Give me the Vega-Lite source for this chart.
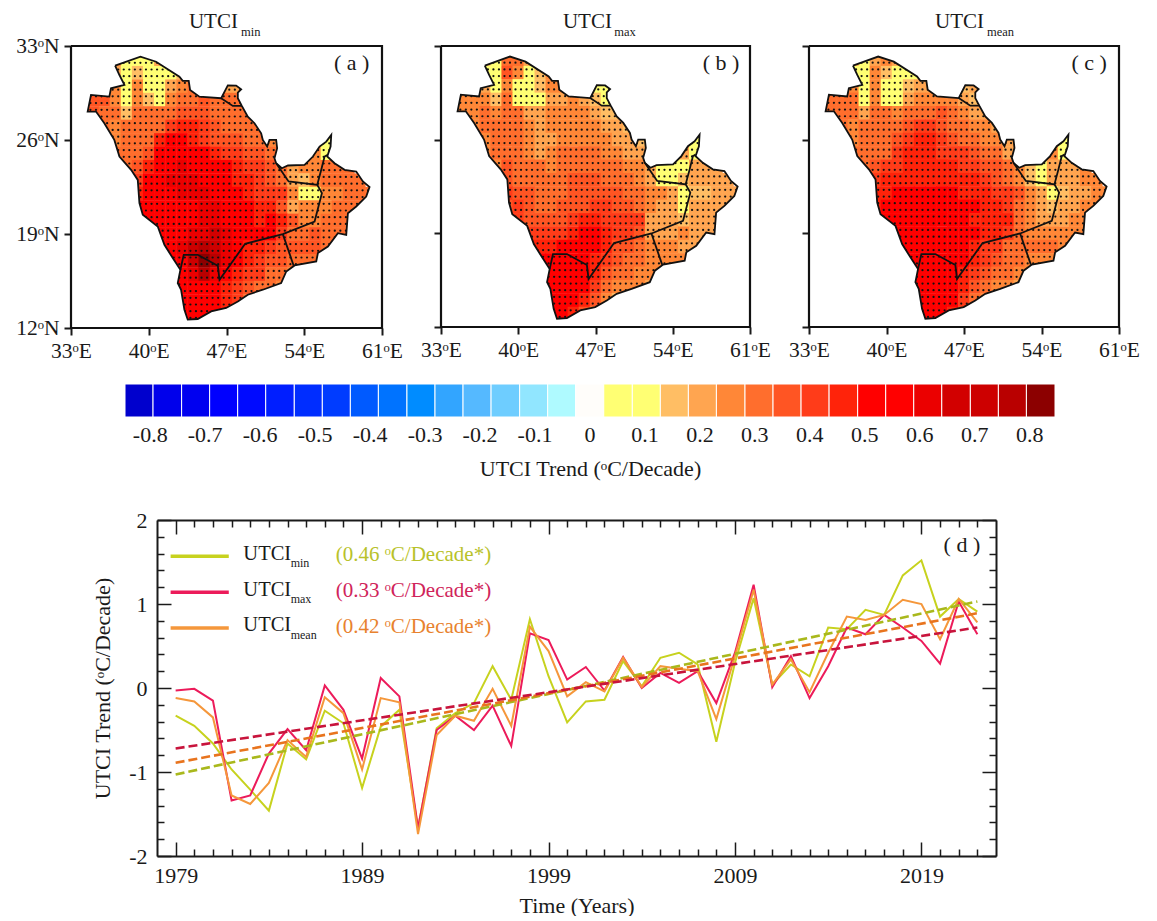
{"$schema":"https://vega.github.io/schema/vega-lite/v6.json","background":"white","padding":{"left":15,"top":10,"right":0,"bottom":0},"bounds":"flush","spacing":474,
"config":{"font":"Liberation Serif","view":{"stroke":null},"text":{"color":"#1a1a1a"},"axis":{"labelColor":"#1a1a1a","titleColor":"#1a1a1a","tickColor":"#1a1a1a","domainColor":"#1a1a1a","grid":false}},
"datasets":{
"geo":[
{"g":"rect","i":-4,"x":33,"y":33},{"g":"rect","i":-3,"x":33,"y":12},{"g":"rect","i":-2,"x":61,"y":12},{"g":"rect","i":-1,"x":61,"y":33},{"g":"rect","i":0,"x":33,"y":33},
{"g":"coast","i":1,"x":36.97,"y":31.54},{"g":"coast","i":2,"x":39.25,"y":32.21},{"g":"coast","i":3,"x":40.66,"y":31.83},{"g":"coast","i":4,"x":42.76,"y":30.72},{"g":"coast","i":5,"x":43.06,"y":30.4},{"g":"coast","i":6,"x":43.6,"y":30.4},{"g":"coast","i":7,"x":43.72,"y":29.73},{"g":"coast","i":8,"x":44.56,"y":29.23},{"g":"coast","i":9,"x":46.52,"y":29.11},{"g":"coast","i":10,"x":46.91,"y":29.73},{"g":"coast","i":11,"x":47.12,"y":30.07},{"g":"coast","i":12,"x":47.87,"y":30.05},{"g":"coast","i":13,"x":48.32,"y":29.78},{"g":"coast","i":14,"x":48.02,"y":29.53},{"g":"coast","i":15,"x":48.02,"y":29.11},{"g":"coast","i":16,"x":48.38,"y":28.54},{"g":"coast","i":17,"x":48.92,"y":27.74},{"g":"coast","i":18,"x":49.52,"y":27.25},{"g":"coast","i":19,"x":50.12,"y":26.5},{"g":"coast","i":20,"x":50.27,"y":26.01},{"g":"coast","i":21,"x":50.66,"y":25.51},{"g":"coast","i":22,"x":50.87,"y":26.01},{"g":"coast","i":23,"x":51.47,"y":26.01},{"g":"coast","i":24,"x":51.56,"y":25.39},{"g":"coast","i":25,"x":51.32,"y":24.64},{"g":"coast","i":26,"x":51.47,"y":24.27},{"g":"coast","i":27,"x":51.98,"y":23.9},{"g":"coast","i":28,"x":52.53,"y":24.1},{"g":"coast","i":29,"x":54.03,"y":24.15},{"g":"coast","i":30,"x":54.78,"y":24.77},{"g":"coast","i":31,"x":55.38,"y":25.51},{"g":"coast","i":32,"x":55.98,"y":25.88},{"g":"coast","i":33,"x":56.43,"y":26.38},{"g":"coast","i":34,"x":56.37,"y":25.51},{"g":"coast","i":35,"x":56.07,"y":24.77},{"g":"coast","i":36,"x":56.73,"y":24.27},{"g":"coast","i":37,"x":57.63,"y":23.78},{"g":"coast","i":38,"x":58.68,"y":23.65},{"g":"coast","i":39,"x":59.28,"y":22.91},{"g":"coast","i":40,"x":59.88,"y":22.49},{"g":"coast","i":41,"x":59.58,"y":21.79},{"g":"coast","i":42,"x":58.68,"y":21.05},{"g":"coast","i":43,"x":57.93,"y":20.55},{"g":"coast","i":44,"x":57.78,"y":18.94},{"g":"coast","i":45,"x":57.03,"y":19.06},{"g":"coast","i":46,"x":56.13,"y":18.07},{"g":"coast","i":47,"x":55.23,"y":17.58},{"g":"coast","i":48,"x":55.08,"y":16.96},{"g":"coast","i":49,"x":53.13,"y":16.66},{"g":"coast","i":50,"x":52.38,"y":16.21},{"g":"coast","i":51,"x":51.92,"y":15.35},{"g":"coast","i":52,"x":50.27,"y":14.85},{"g":"coast","i":53,"x":48.92,"y":14.48},{"g":"coast","i":54,"x":48.02,"y":13.98},{"g":"coast","i":55,"x":46.97,"y":13.49},{"g":"coast","i":56,"x":45.62,"y":13.24},{"g":"coast","i":57,"x":44.41,"y":12.67},{"g":"coast","i":58,"x":43.51,"y":12.62},{"g":"coast","i":59,"x":43.21,"y":13.36},{"g":"coast","i":60,"x":42.91,"y":14.85},{"g":"coast","i":61,"x":42.61,"y":15.35},{"g":"coast","i":62,"x":42.85,"y":16.34},{"g":"coast","i":63,"x":42.16,"y":17.21},{"g":"coast","i":64,"x":41.41,"y":18.2},{"g":"coast","i":65,"x":40.81,"y":19.56},{"g":"coast","i":66,"x":39.46,"y":20.43},{"g":"coast","i":67,"x":39.16,"y":21.3},{"g":"coast","i":68,"x":39.01,"y":23.03},{"g":"coast","i":69,"x":38.41,"y":23.78},{"g":"coast","i":70,"x":37.36,"y":24.77},{"g":"coast","i":71,"x":36.9,"y":26.01},{"g":"coast","i":72,"x":36,"y":27.25},{"g":"coast","i":73,"x":35.25,"y":28.12},{"g":"coast","i":74,"x":34.5,"y":28.12},{"g":"coast","i":75,"x":34.8,"y":29.36},{"g":"coast","i":76,"x":36.45,"y":29.23},{"g":"coast","i":77,"x":36.6,"y":29.85},{"g":"coast","i":78,"x":37.81,"y":30.1},{"g":"coast","i":79,"x":37.36,"y":30.84},{"g":"coast","i":80,"x":36.97,"y":31.54},
{"g":"close","i":81,"x":33,"y":33},
{"g":"b1","i":1,"x":42.85,"y":16.34},{"g":"b1","i":2,"x":43.15,"y":17.45},{"g":"b1","i":3,"x":44.41,"y":17.45},{"g":"b1","i":4,"x":46.22,"y":16.63},{"g":"b1","i":5,"x":46.37,"y":15.59},{"g":"b1","i":6,"x":48.68,"y":18.27},{"g":"b1","i":7,"x":52.07,"y":18.99},{"g":"b1","i":8,"x":54.93,"y":19.93},{"g":"b1","i":9,"x":55.59,"y":22.04},{"g":"b1","i":10,"x":55.17,"y":22.66},{"g":"b1","i":11,"x":52.59,"y":22.91},{"g":"b1","i":12,"x":51.47,"y":24.27},
{"g":"b2","i":1,"x":55.17,"y":22.66},{"g":"b2","i":2,"x":55.53,"y":23.78},{"g":"b2","i":3,"x":55.83,"y":24.77},{"g":"b2","i":4,"x":56.07,"y":24.89},
{"g":"b3","i":1,"x":52.07,"y":18.99},{"g":"b3","i":2,"x":53.04,"y":16.66},
{"g":"b4","i":1,"x":46.52,"y":29.11},{"g":"b4","i":2,"x":47.57,"y":28.54},{"g":"b4","i":3,"x":48.38,"y":28.54}
],
"cells":[
{"x":37,"y":32,"a":0.25,"b":0.15,"c":0.2},{"x":38,"y":32,"a":0.08,"b":0.08,"c":0.08},{"x":39,"y":32,"a":0.08,"b":0.3,"c":0.2},{"x":40,"y":32,"a":0.08,"b":0.3,"c":0.25},{"x":41,"y":32,"a":0.2,"b":0.2,"c":0.2},
{"x":37,"y":31,"a":0.2,"b":0.1,"c":0.1},{"x":38,"y":31,"a":0.08,"b":0.08,"c":0.08},{"x":39,"y":31,"a":0.15,"b":0.35,"c":0.25},{"x":40,"y":31,"a":0.1,"b":0.25,"c":0.15},{"x":41,"y":31,"a":0.08,"b":0.1,"c":0.08},{"x":42,"y":31,"a":0.08,"b":0.15,"c":0.08},{"x":43,"y":31,"a":0.15,"b":0.25,"c":0.1},
{"x":36,"y":30,"a":0.3,"b":0.25,"c":0.3},{"x":37,"y":30,"a":0.25,"b":0.2,"c":0.25},{"x":38,"y":30,"a":0.08,"b":0.1,"c":0.1},{"x":39,"y":30,"a":0.25,"b":0.25,"c":0.25},{"x":40,"y":30,"a":0.08,"b":0.08,"c":0.08},{"x":41,"y":30,"a":0.08,"b":0.08,"c":0.08},{"x":42,"y":30,"a":0.2,"b":0.15,"c":0.15},{"x":43,"y":30,"a":0.25,"b":0.25,"c":0.2},{"x":44,"y":30,"a":0.3,"b":0.25,"c":0.2},{"x":46,"y":30,"a":0.3,"b":0.1,"c":0.2},{"x":47,"y":30,"a":0.2,"b":0.08,"c":0.15},{"x":48,"y":30,"a":0.2,"b":0.1,"c":0.2},
{"x":34,"y":29,"a":0.4,"b":0.25,"c":0.35},{"x":35,"y":29,"a":0.35,"b":0.25,"c":0.3},{"x":36,"y":29,"a":0.35,"b":0.25,"c":0.3},{"x":37,"y":29,"a":0.25,"b":0.25,"c":0.3},{"x":38,"y":29,"a":0.1,"b":0.15,"c":0.1},{"x":39,"y":29,"a":0.25,"b":0.3,"c":0.25},{"x":40,"y":29,"a":0.15,"b":0.1,"c":0.1},{"x":41,"y":29,"a":0.1,"b":0.08,"c":0.08},{"x":42,"y":29,"a":0.25,"b":0.08,"c":0.2},{"x":43,"y":29,"a":0.3,"b":0.2,"c":0.25},{"x":44,"y":29,"a":0.3,"b":0.2,"c":0.25},{"x":45,"y":29,"a":0.35,"b":0.25,"c":0.25},{"x":46,"y":29,"a":0.3,"b":0.2,"c":0.25},{"x":47,"y":29,"a":0.3,"b":0.15,"c":0.2},{"x":48,"y":29,"a":0.3,"b":0.1,"c":0.15},
{"x":34,"y":28,"a":0.4,"b":0.25,"c":0.3},{"x":35,"y":28,"a":0.35,"b":0.25,"c":0.3},{"x":36,"y":28,"a":0.3,"b":0.25,"c":0.3},{"x":37,"y":28,"a":0.3,"b":0.3,"c":0.3},{"x":38,"y":28,"a":0.15,"b":0.25,"c":0.2},{"x":39,"y":28,"a":0.3,"b":0.3,"c":0.3},{"x":40,"y":28,"a":0.3,"b":0.3,"c":0.3},{"x":41,"y":28,"a":0.3,"b":0.2,"c":0.25},{"x":42,"y":28,"a":0.3,"b":0.2,"c":0.3},{"x":43,"y":28,"a":0.35,"b":0.25,"c":0.3},{"x":44,"y":28,"a":0.35,"b":0.25,"c":0.3},{"x":45,"y":28,"a":0.35,"b":0.25,"c":0.35},{"x":46,"y":28,"a":0.3,"b":0.25,"c":0.3},{"x":47,"y":28,"a":0.3,"b":0.2,"c":0.25},{"x":48,"y":28,"a":0.3,"b":0.15,"c":0.2},{"x":49,"y":28,"a":0.3,"b":0.15,"c":0.2},
{"x":35,"y":27,"a":0.35,"b":0.25,"c":0.3},{"x":36,"y":27,"a":0.3,"b":0.25,"c":0.3},{"x":37,"y":27,"a":0.25,"b":0.3,"c":0.25},{"x":38,"y":27,"a":0.3,"b":0.3,"c":0.3},{"x":39,"y":27,"a":0.3,"b":0.3,"c":0.3},{"x":40,"y":27,"a":0.3,"b":0.3,"c":0.3},{"x":41,"y":27,"a":0.3,"b":0.25,"c":0.3},{"x":42,"y":27,"a":0.4,"b":0.2,"c":0.35},{"x":43,"y":27,"a":0.45,"b":0.25,"c":0.4},{"x":44,"y":27,"a":0.45,"b":0.25,"c":0.4},{"x":45,"y":27,"a":0.4,"b":0.25,"c":0.35},{"x":46,"y":27,"a":0.35,"b":0.25,"c":0.3},{"x":47,"y":27,"a":0.3,"b":0.25,"c":0.3},{"x":48,"y":27,"a":0.3,"b":0.2,"c":0.25},{"x":49,"y":27,"a":0.3,"b":0.2,"c":0.25},{"x":50,"y":27,"a":0.3,"b":0.15,"c":0.2},
{"x":36,"y":26,"a":0.3,"b":0.25,"c":0.25},{"x":37,"y":26,"a":0.25,"b":0.25,"c":0.25},{"x":38,"y":26,"a":0.3,"b":0.3,"c":0.3},{"x":39,"y":26,"a":0.3,"b":0.3,"c":0.3},{"x":40,"y":26,"a":0.3,"b":0.3,"c":0.3},{"x":41,"y":26,"a":0.45,"b":0.25,"c":0.35},{"x":42,"y":26,"a":0.5,"b":0.2,"c":0.4},{"x":43,"y":26,"a":0.5,"b":0.2,"c":0.45},{"x":44,"y":26,"a":0.45,"b":0.25,"c":0.45},{"x":45,"y":26,"a":0.4,"b":0.25,"c":0.4},{"x":46,"y":26,"a":0.35,"b":0.25,"c":0.35},{"x":47,"y":26,"a":0.35,"b":0.25,"c":0.3},{"x":48,"y":26,"a":0.35,"b":0.25,"c":0.3},{"x":49,"y":26,"a":0.3,"b":0.2,"c":0.25},{"x":50,"y":26,"a":0.3,"b":0.2,"c":0.25},{"x":51,"y":26,"a":0.25,"b":0.15,"c":0.2},{"x":52,"y":26,"a":0.25,"b":0.15,"c":0.2},{"x":56,"y":26,"a":0.08,"b":0.08,"c":0.08},
{"x":37,"y":25,"a":0.3,"b":0.25,"c":0.3},{"x":38,"y":25,"a":0.3,"b":0.3,"c":0.3},{"x":39,"y":25,"a":0.3,"b":0.3,"c":0.3},{"x":40,"y":25,"a":0.35,"b":0.3,"c":0.3},{"x":41,"y":25,"a":0.5,"b":0.25,"c":0.4},{"x":42,"y":25,"a":0.55,"b":0.2,"c":0.45},{"x":43,"y":25,"a":0.55,"b":0.25,"c":0.45},{"x":44,"y":25,"a":0.5,"b":0.3,"c":0.45},{"x":45,"y":25,"a":0.5,"b":0.3,"c":0.4},{"x":46,"y":25,"a":0.45,"b":0.3,"c":0.4},{"x":47,"y":25,"a":0.4,"b":0.3,"c":0.4},{"x":48,"y":25,"a":0.4,"b":0.25,"c":0.35},{"x":49,"y":25,"a":0.35,"b":0.25,"c":0.3},{"x":50,"y":25,"a":0.35,"b":0.2,"c":0.3},{"x":51,"y":25,"a":0.3,"b":0.2,"c":0.2},{"x":52,"y":25,"a":0.3,"b":0.15,"c":0.2},{"x":54,"y":25,"a":0.3,"b":0.15,"c":0.2},{"x":55,"y":25,"a":0.25,"b":0.2,"c":0.25},{"x":56,"y":25,"a":0.1,"b":0.08,"c":0.08},{"x":57,"y":25,"a":0.25,"b":0.2,"c":0.2},
{"x":38,"y":24,"a":0.3,"b":0.25,"c":0.3},{"x":39,"y":24,"a":0.35,"b":0.35,"c":0.35},{"x":40,"y":24,"a":0.45,"b":0.3,"c":0.4},{"x":41,"y":24,"a":0.5,"b":0.3,"c":0.4},{"x":42,"y":24,"a":0.55,"b":0.3,"c":0.45},{"x":43,"y":24,"a":0.6,"b":0.25,"c":0.45},{"x":44,"y":24,"a":0.55,"b":0.3,"c":0.45},{"x":45,"y":24,"a":0.5,"b":0.3,"c":0.45},{"x":46,"y":24,"a":0.5,"b":0.3,"c":0.45},{"x":47,"y":24,"a":0.5,"b":0.3,"c":0.4},{"x":48,"y":24,"a":0.45,"b":0.3,"c":0.4},{"x":49,"y":24,"a":0.4,"b":0.3,"c":0.35},{"x":50,"y":24,"a":0.4,"b":0.25,"c":0.35},{"x":51,"y":24,"a":0.35,"b":0.25,"c":0.3},{"x":52,"y":24,"a":0.3,"b":0.2,"c":0.25},{"x":53,"y":24,"a":0.2,"b":0.08,"c":0.15},{"x":54,"y":24,"a":0.25,"b":0.08,"c":0.1},{"x":55,"y":24,"a":0.25,"b":0.1,"c":0.2},{"x":56,"y":24,"a":0.3,"b":0.2,"c":0.2},{"x":57,"y":24,"a":0.3,"b":0.2,"c":0.2},{"x":58,"y":24,"a":0.3,"b":0.2,"c":0.25},
{"x":38,"y":23,"a":0.35,"b":0.35,"c":0.35},{"x":39,"y":23,"a":0.4,"b":0.35,"c":0.4},{"x":40,"y":23,"a":0.5,"b":0.3,"c":0.45},{"x":41,"y":23,"a":0.55,"b":0.3,"c":0.45},{"x":42,"y":23,"a":0.6,"b":0.3,"c":0.45},{"x":43,"y":23,"a":0.6,"b":0.3,"c":0.45},{"x":44,"y":23,"a":0.6,"b":0.3,"c":0.45},{"x":45,"y":23,"a":0.55,"b":0.35,"c":0.45},{"x":46,"y":23,"a":0.55,"b":0.35,"c":0.45},{"x":47,"y":23,"a":0.5,"b":0.35,"c":0.45},{"x":48,"y":23,"a":0.45,"b":0.3,"c":0.45},{"x":49,"y":23,"a":0.45,"b":0.3,"c":0.4},{"x":50,"y":23,"a":0.4,"b":0.3,"c":0.35},{"x":51,"y":23,"a":0.35,"b":0.25,"c":0.3},{"x":52,"y":23,"a":0.3,"b":0.2,"c":0.25},{"x":53,"y":23,"a":0.2,"b":0.1,"c":0.15},{"x":54,"y":23,"a":0.15,"b":0.1,"c":0.08},{"x":55,"y":23,"a":0.25,"b":0.15,"c":0.2},{"x":56,"y":23,"a":0.3,"b":0.2,"c":0.2},{"x":57,"y":23,"a":0.3,"b":0.2,"c":0.2},{"x":58,"y":23,"a":0.3,"b":0.2,"c":0.25},{"x":59,"y":23,"a":0.3,"b":0.2,"c":0.25},
{"x":39,"y":22,"a":0.45,"b":0.4,"c":0.45},{"x":40,"y":22,"a":0.5,"b":0.35,"c":0.45},{"x":41,"y":22,"a":0.55,"b":0.35,"c":0.5},{"x":42,"y":22,"a":0.55,"b":0.3,"c":0.5},{"x":43,"y":22,"a":0.6,"b":0.3,"c":0.5},{"x":44,"y":22,"a":0.6,"b":0.3,"c":0.5},{"x":45,"y":22,"a":0.6,"b":0.35,"c":0.5},{"x":46,"y":22,"a":0.55,"b":0.35,"c":0.5},{"x":47,"y":22,"a":0.55,"b":0.35,"c":0.45},{"x":48,"y":22,"a":0.5,"b":0.35,"c":0.45},{"x":49,"y":22,"a":0.45,"b":0.35,"c":0.45},{"x":50,"y":22,"a":0.4,"b":0.3,"c":0.4},{"x":51,"y":22,"a":0.4,"b":0.3,"c":0.4},{"x":52,"y":22,"a":0.4,"b":0.25,"c":0.35},{"x":53,"y":22,"a":0.25,"b":0.25,"c":0.25},{"x":54,"y":22,"a":0.1,"b":0.2,"c":0.2},{"x":55,"y":22,"a":0.1,"b":0.1,"c":0.1},{"x":56,"y":22,"a":0.25,"b":0.15,"c":0.15},{"x":57,"y":22,"a":0.25,"b":0.15,"c":0.2},{"x":58,"y":22,"a":0.3,"b":0.2,"c":0.2},{"x":59,"y":22,"a":0.3,"b":0.2,"c":0.25},{"x":60,"y":22,"a":0.3,"b":0.2,"c":0.25},
{"x":39,"y":21,"a":0.5,"b":0.35,"c":0.45},{"x":40,"y":21,"a":0.5,"b":0.4,"c":0.5},{"x":41,"y":21,"a":0.55,"b":0.35,"c":0.5},{"x":42,"y":21,"a":0.55,"b":0.3,"c":0.5},{"x":43,"y":21,"a":0.55,"b":0.3,"c":0.5},{"x":44,"y":21,"a":0.55,"b":0.35,"c":0.5},{"x":45,"y":21,"a":0.6,"b":0.35,"c":0.5},{"x":46,"y":21,"a":0.6,"b":0.35,"c":0.5},{"x":47,"y":21,"a":0.55,"b":0.4,"c":0.5},{"x":48,"y":21,"a":0.55,"b":0.4,"c":0.5},{"x":49,"y":21,"a":0.5,"b":0.35,"c":0.45},{"x":50,"y":21,"a":0.45,"b":0.35,"c":0.45},{"x":51,"y":21,"a":0.45,"b":0.3,"c":0.4},{"x":52,"y":21,"a":0.35,"b":0.25,"c":0.3},{"x":53,"y":21,"a":0.2,"b":0.2,"c":0.25},{"x":54,"y":21,"a":0.25,"b":0.2,"c":0.2},{"x":55,"y":21,"a":0.25,"b":0.1,"c":0.15},{"x":56,"y":21,"a":0.25,"b":0.2,"c":0.2},{"x":57,"y":21,"a":0.3,"b":0.2,"c":0.2},{"x":58,"y":21,"a":0.3,"b":0.2,"c":0.25},{"x":59,"y":21,"a":0.3,"b":0.2,"c":0.25},
{"x":39,"y":20,"a":0.5,"b":0.4,"c":0.5},{"x":40,"y":20,"a":0.55,"b":0.4,"c":0.5},{"x":41,"y":20,"a":0.55,"b":0.35,"c":0.5},{"x":42,"y":20,"a":0.55,"b":0.35,"c":0.5},{"x":43,"y":20,"a":0.55,"b":0.35,"c":0.5},{"x":44,"y":20,"a":0.55,"b":0.35,"c":0.5},{"x":45,"y":20,"a":0.6,"b":0.4,"c":0.5},{"x":46,"y":20,"a":0.6,"b":0.45,"c":0.5},{"x":47,"y":20,"a":0.55,"b":0.45,"c":0.5},{"x":48,"y":20,"a":0.5,"b":0.4,"c":0.45},{"x":49,"y":20,"a":0.5,"b":0.4,"c":0.45},{"x":50,"y":20,"a":0.45,"b":0.4,"c":0.45},{"x":51,"y":20,"a":0.5,"b":0.4,"c":0.45},{"x":52,"y":20,"a":0.45,"b":0.2,"c":0.3},{"x":53,"y":20,"a":0.35,"b":0.2,"c":0.25},{"x":54,"y":20,"a":0.25,"b":0.2,"c":0.2},{"x":55,"y":20,"a":0.25,"b":0.15,"c":0.2},{"x":56,"y":20,"a":0.3,"b":0.2,"c":0.2},{"x":57,"y":20,"a":0.3,"b":0.2,"c":0.25},{"x":58,"y":20,"a":0.3,"b":0.2,"c":0.25},
{"x":40,"y":19,"a":0.5,"b":0.4,"c":0.5},{"x":41,"y":19,"a":0.55,"b":0.4,"c":0.5},{"x":42,"y":19,"a":0.55,"b":0.4,"c":0.5},{"x":43,"y":19,"a":0.55,"b":0.4,"c":0.5},{"x":44,"y":19,"a":0.6,"b":0.4,"c":0.5},{"x":45,"y":19,"a":0.6,"b":0.45,"c":0.5},{"x":46,"y":19,"a":0.65,"b":0.5,"c":0.5},{"x":47,"y":19,"a":0.6,"b":0.5,"c":0.5},{"x":48,"y":19,"a":0.55,"b":0.45,"c":0.5},{"x":49,"y":19,"a":0.5,"b":0.4,"c":0.45},{"x":50,"y":19,"a":0.5,"b":0.4,"c":0.45},{"x":51,"y":19,"a":0.5,"b":0.35,"c":0.4},{"x":52,"y":19,"a":0.4,"b":0.2,"c":0.3},{"x":53,"y":19,"a":0.3,"b":0.2,"c":0.25},{"x":54,"y":19,"a":0.3,"b":0.2,"c":0.25},{"x":55,"y":19,"a":0.35,"b":0.25,"c":0.25},{"x":56,"y":19,"a":0.3,"b":0.2,"c":0.25},{"x":57,"y":19,"a":0.3,"b":0.2,"c":0.25},{"x":58,"y":19,"a":0.3,"b":0.2,"c":0.25},
{"x":41,"y":18,"a":0.55,"b":0.45,"c":0.5},{"x":42,"y":18,"a":0.55,"b":0.45,"c":0.5},{"x":43,"y":18,"a":0.6,"b":0.45,"c":0.5},{"x":44,"y":18,"a":0.7,"b":0.5,"c":0.55},{"x":45,"y":18,"a":0.75,"b":0.5,"c":0.55},{"x":46,"y":18,"a":0.7,"b":0.5,"c":0.55},{"x":47,"y":18,"a":0.6,"b":0.5,"c":0.5},{"x":48,"y":18,"a":0.5,"b":0.45,"c":0.45},{"x":49,"y":18,"a":0.45,"b":0.35,"c":0.4},{"x":50,"y":18,"a":0.45,"b":0.35,"c":0.4},{"x":51,"y":18,"a":0.4,"b":0.3,"c":0.3},{"x":52,"y":18,"a":0.35,"b":0.25,"c":0.3},{"x":53,"y":18,"a":0.35,"b":0.25,"c":0.3},{"x":54,"y":18,"a":0.35,"b":0.25,"c":0.3},{"x":55,"y":18,"a":0.35,"b":0.2,"c":0.3},{"x":56,"y":18,"a":0.3,"b":0.2,"c":0.25},{"x":57,"y":18,"a":0.3,"b":0.2,"c":0.25},
{"x":42,"y":17,"a":0.55,"b":0.5,"c":0.5},{"x":43,"y":17,"a":0.55,"b":0.5,"c":0.5},{"x":44,"y":17,"a":0.7,"b":0.5,"c":0.55},{"x":45,"y":17,"a":0.8,"b":0.5,"c":0.55},{"x":46,"y":17,"a":0.75,"b":0.5,"c":0.55},{"x":47,"y":17,"a":0.6,"b":0.45,"c":0.5},{"x":48,"y":17,"a":0.5,"b":0.4,"c":0.45},{"x":49,"y":17,"a":0.45,"b":0.35,"c":0.4},{"x":50,"y":17,"a":0.4,"b":0.3,"c":0.35},{"x":51,"y":17,"a":0.35,"b":0.3,"c":0.3},{"x":52,"y":17,"a":0.35,"b":0.25,"c":0.3},{"x":53,"y":17,"a":0.3,"b":0.25,"c":0.25},{"x":54,"y":17,"a":0.3,"b":0.25,"c":0.25},{"x":55,"y":17,"a":0.3,"b":0.25,"c":0.25},{"x":56,"y":17,"a":0.3,"b":0.25,"c":0.25},
{"x":42,"y":16,"a":0.5,"b":0.5,"c":0.5},{"x":43,"y":16,"a":0.55,"b":0.55,"c":0.5},{"x":44,"y":16,"a":0.6,"b":0.55,"c":0.55},{"x":45,"y":16,"a":0.75,"b":0.55,"c":0.55},{"x":46,"y":16,"a":0.6,"b":0.55,"c":0.55},{"x":47,"y":16,"a":0.5,"b":0.45,"c":0.45},{"x":48,"y":16,"a":0.45,"b":0.35,"c":0.4},{"x":49,"y":16,"a":0.4,"b":0.3,"c":0.35},{"x":50,"y":16,"a":0.4,"b":0.3,"c":0.3},{"x":51,"y":16,"a":0.3,"b":0.25,"c":0.3},{"x":52,"y":16,"a":0.3,"b":0.25,"c":0.25},{"x":53,"y":16,"a":0.25,"b":0.25,"c":0.25},
{"x":42,"y":15,"a":0.5,"b":0.5,"c":0.5},{"x":43,"y":15,"a":0.5,"b":0.55,"c":0.5},{"x":44,"y":15,"a":0.55,"b":0.55,"c":0.55},{"x":45,"y":15,"a":0.55,"b":0.55,"c":0.55},{"x":46,"y":15,"a":0.55,"b":0.5,"c":0.5},{"x":47,"y":15,"a":0.45,"b":0.4,"c":0.45},{"x":48,"y":15,"a":0.4,"b":0.3,"c":0.35},{"x":49,"y":15,"a":0.35,"b":0.25,"c":0.3},{"x":50,"y":15,"a":0.3,"b":0.25,"c":0.25},{"x":51,"y":15,"a":0.3,"b":0.25,"c":0.25},{"x":52,"y":15,"a":0.25,"b":0.2,"c":0.2},
{"x":43,"y":14,"a":0.5,"b":0.5,"c":0.5},{"x":44,"y":14,"a":0.5,"b":0.55,"c":0.5},{"x":45,"y":14,"a":0.5,"b":0.5,"c":0.5},{"x":46,"y":14,"a":0.5,"b":0.45,"c":0.5},{"x":47,"y":14,"a":0.45,"b":0.35,"c":0.4},{"x":48,"y":14,"a":0.4,"b":0.25,"c":0.3},{"x":49,"y":14,"a":0.3,"b":0.15,"c":0.25},{"x":50,"y":14,"a":0.3,"b":0.1,"c":0.2},
{"x":43,"y":13,"a":0.5,"b":0.5,"c":0.5},{"x":44,"y":13,"a":0.5,"b":0.5,"c":0.5},{"x":45,"y":13,"a":0.5,"b":0.45,"c":0.5},{"x":46,"y":13,"a":0.5,"b":0.35,"c":0.45},{"x":47,"y":13,"a":0.45,"b":0.2,"c":0.3},{"x":48,"y":13,"a":0.35,"b":0.1,"c":0.25}
],
"bar":[{"lo":-0.845,"hi":-0.794,"v":-0.82},{"lo":-0.794,"hi":-0.742,"v":-0.77},{"lo":-0.742,"hi":-0.691,"v":-0.715},{"lo":-0.691,"hi":-0.64,"v":-0.665},{"lo":-0.64,"hi":-0.589,"v":-0.615},{"lo":-0.589,"hi":-0.537,"v":-0.565},{"lo":-0.537,"hi":-0.486,"v":-0.51},{"lo":-0.486,"hi":-0.435,"v":-0.46},{"lo":-0.435,"hi":-0.384,"v":-0.41},{"lo":-0.384,"hi":-0.332,"v":-0.36},{"lo":-0.332,"hi":-0.281,"v":-0.305},{"lo":-0.281,"hi":-0.23,"v":-0.255},{"lo":-0.23,"hi":-0.179,"v":-0.205},{"lo":-0.179,"hi":-0.127,"v":-0.155},{"lo":-0.127,"hi":-0.076,"v":-0.1},{"lo":-0.076,"hi":-0.025,"v":-0.05},{"lo":-0.025,"hi":0.026,"v":0},{"lo":0.026,"hi":0.078,"v":0.05},{"lo":0.078,"hi":0.129,"v":0.1},{"lo":0.129,"hi":0.18,"v":0.155},{"lo":0.18,"hi":0.231,"v":0.205},{"lo":0.231,"hi":0.283,"v":0.255},{"lo":0.283,"hi":0.334,"v":0.31},{"lo":0.334,"hi":0.385,"v":0.36},{"lo":0.385,"hi":0.436,"v":0.41},{"lo":0.436,"hi":0.488,"v":0.46},{"lo":0.488,"hi":0.539,"v":0.515},{"lo":0.539,"hi":0.59,"v":0.565},{"lo":0.59,"hi":0.641,"v":0.615},{"lo":0.641,"hi":0.693,"v":0.665},{"lo":0.693,"hi":0.744,"v":0.72},{"lo":0.744,"hi":0.795,"v":0.77},{"lo":0.795,"hi":0.847,"v":0.82}],
"series":[
{"s":"min","x":1979,"y":-0.33},{"s":"min","x":1980,"y":-0.45},{"s":"min","x":1981,"y":-0.66},{"s":"min","x":1982,"y":-0.97},{"s":"min","x":1983,"y":-1.21},{"s":"min","x":1984,"y":-1.46},{"s":"min","x":1985,"y":-0.66},{"s":"min","x":1986,"y":-0.85},{"s":"min","x":1987,"y":-0.27},{"s":"min","x":1988,"y":-0.42},{"s":"min","x":1989,"y":-1.19},{"s":"min","x":1990,"y":-0.46},{"s":"min","x":1991,"y":-0.26},{"s":"min","x":1992,"y":-1.67},{"s":"min","x":1993,"y":-0.48},{"s":"min","x":1994,"y":-0.3},{"s":"min","x":1995,"y":-0.18},{"s":"min","x":1996,"y":0.26},{"s":"min","x":1997,"y":-0.14},{"s":"min","x":1998,"y":0.82},{"s":"min","x":1999,"y":0.14},{"s":"min","x":2000,"y":-0.41},{"s":"min","x":2001,"y":-0.16},{"s":"min","x":2002,"y":-0.14},{"s":"min","x":2003,"y":0.32},{"s":"min","x":2004,"y":0.02},{"s":"min","x":2005,"y":0.36},{"s":"min","x":2006,"y":0.42},{"s":"min","x":2007,"y":0.28},{"s":"min","x":2008,"y":-0.64},{"s":"min","x":2009,"y":0.3},{"s":"min","x":2010,"y":1.07},{"s":"min","x":2011,"y":0.04},{"s":"min","x":2012,"y":0.28},{"s":"min","x":2013,"y":0.14},{"s":"min","x":2014,"y":0.72},{"s":"min","x":2015,"y":0.7},{"s":"min","x":2016,"y":0.93},{"s":"min","x":2017,"y":0.87},{"s":"min","x":2018,"y":1.34},{"s":"min","x":2019,"y":1.52},{"s":"min","x":2020,"y":0.85},{"s":"min","x":2021,"y":1.06},{"s":"min","x":2022,"y":0.91},
{"s":"max","x":1979,"y":-0.03},{"s":"max","x":1980,"y":-0.01},{"s":"max","x":1981,"y":-0.15},{"s":"max","x":1982,"y":-1.34},{"s":"max","x":1983,"y":-1.28},{"s":"max","x":1984,"y":-0.78},{"s":"max","x":1985,"y":-0.49},{"s":"max","x":1986,"y":-0.74},{"s":"max","x":1987,"y":0.03},{"s":"max","x":1988,"y":-0.26},{"s":"max","x":1989,"y":-0.84},{"s":"max","x":1990,"y":0.12},{"s":"max","x":1991,"y":-0.1},{"s":"max","x":1992,"y":-1.67},{"s":"max","x":1993,"y":-0.5},{"s":"max","x":1994,"y":-0.33},{"s":"max","x":1995,"y":-0.5},{"s":"max","x":1996,"y":-0.21},{"s":"max","x":1997,"y":-0.69},{"s":"max","x":1998,"y":0.65},{"s":"max","x":1999,"y":0.57},{"s":"max","x":2000,"y":0.1},{"s":"max","x":2001,"y":0.25},{"s":"max","x":2002,"y":-0.03},{"s":"max","x":2003,"y":0.37},{"s":"max","x":2004,"y":0},{"s":"max","x":2005,"y":0.18},{"s":"max","x":2006,"y":0.06},{"s":"max","x":2007,"y":0.2},{"s":"max","x":2008,"y":-0.18},{"s":"max","x":2009,"y":0.42},{"s":"max","x":2010,"y":1.23},{"s":"max","x":2011,"y":0.01},{"s":"max","x":2012,"y":0.38},{"s":"max","x":2013,"y":-0.12},{"s":"max","x":2014,"y":0.26},{"s":"max","x":2015,"y":0.72},{"s":"max","x":2016,"y":0.64},{"s":"max","x":2017,"y":0.87},{"s":"max","x":2018,"y":0.72},{"s":"max","x":2019,"y":0.56},{"s":"max","x":2020,"y":0.29},{"s":"max","x":2021,"y":1.03},{"s":"max","x":2022,"y":0.64},
{"s":"mean","x":1979,"y":-0.12},{"s":"mean","x":1980,"y":-0.16},{"s":"mean","x":1981,"y":-0.35},{"s":"mean","x":1982,"y":-1.28},{"s":"mean","x":1983,"y":-1.38},{"s":"mean","x":1984,"y":-1.13},{"s":"mean","x":1985,"y":-0.62},{"s":"mean","x":1986,"y":-0.82},{"s":"mean","x":1987,"y":-0.11},{"s":"mean","x":1988,"y":-0.3},{"s":"mean","x":1989,"y":-0.97},{"s":"mean","x":1990,"y":-0.12},{"s":"mean","x":1991,"y":-0.17},{"s":"mean","x":1992,"y":-1.74},{"s":"mean","x":1993,"y":-0.56},{"s":"mean","x":1994,"y":-0.33},{"s":"mean","x":1995,"y":-0.39},{"s":"mean","x":1996,"y":-0.01},{"s":"mean","x":1997,"y":-0.45},{"s":"mean","x":1998,"y":0.73},{"s":"mean","x":1999,"y":0.44},{"s":"mean","x":2000,"y":-0.1},{"s":"mean","x":2001,"y":0.07},{"s":"mean","x":2002,"y":-0.04},{"s":"mean","x":2003,"y":0.36},{"s":"mean","x":2004,"y":0.01},{"s":"mean","x":2005,"y":0.26},{"s":"mean","x":2006,"y":0.23},{"s":"mean","x":2007,"y":0.2},{"s":"mean","x":2008,"y":-0.37},{"s":"mean","x":2009,"y":0.38},{"s":"mean","x":2010,"y":1.17},{"s":"mean","x":2011,"y":0.04},{"s":"mean","x":2012,"y":0.34},{"s":"mean","x":2013,"y":-0.05},{"s":"mean","x":2014,"y":0.42},{"s":"mean","x":2015,"y":0.85},{"s":"mean","x":2016,"y":0.81},{"s":"mean","x":2017,"y":0.87},{"s":"mean","x":2018,"y":1.05},{"s":"mean","x":2019,"y":1},{"s":"mean","x":2020,"y":0.58},{"s":"mean","x":2021,"y":1.06},{"s":"mean","x":2022,"y":0.78}
]},
"vconcat":[
{"bounds":"flush","spacing":338,"vconcat":[
{"bounds":"flush","align":"none","spacing":59,"hconcat":[
{"width":311,"height":282,"data":{"name":"cells"},
"encoding":{"x":{"field":"x","type":"quantitative","scale":{"domain":[33,61],"nice":false,"zero":false},"axis":{"values":[33,40,47,54,61],"title":null,"domain":false,"tickSize":7,"tickWidth":2,"labelFontSize":21.5,"labelPadding":5,"labelFlush":false,"labelOverlap":false,"labelExpr":"datum.value+'ᵒE'"}},"y":{"field":"y","type":"quantitative","scale":{"domain":[12,33],"nice":false,"zero":false},"axis":{"values":[12,19,26,33],"title":null,"domain":false,"tickSize":7,"tickWidth":2,"labelFontSize":21.5,"labelPadding":5,"labelOverlap":false,"labelExpr":"datum.value+'ᵒN'"}}},
"layer":[
{"mark":{"type":"rect","width":11.6,"height":13.8},"encoding":{"color":{"field":"a","type":"quantitative","legend":null,"scale":{"type":"quantize","domain":[-0.845,0.847],"range":["#0000cd","#0000eb","#0000f0","#0000ff","#000aff","#001eff","#002dff","#003cff","#005aff","#0073ff","#008cff","#32a5ff","#55b9ff","#6ecdff","#91e6ff","#affaff","#fffdfa","#ffff73","#ffff73","#ffbe64","#ffa550","#ff8737","#ff6e2d","#ff5523","#ff3c19","#ff230a","#ff0000","#ff0000","#eb0000","#d20000","#cd0000","#b90000","#8c0000"]}}}},
{"mark":{"type":"point","filled":true,"size":5,"color":"#111","opacity":1,"xOffset":-2.78,"yOffset":-3.36}},
{"mark":{"type":"point","filled":true,"size":5,"color":"#111","opacity":1,"xOffset":2.78,"yOffset":-3.36}},
{"mark":{"type":"point","filled":true,"size":5,"color":"#111","opacity":1,"xOffset":-2.78,"yOffset":3.36}},
{"mark":{"type":"point","filled":true,"size":5,"color":"#111","opacity":1,"xOffset":2.78,"yOffset":3.36}},
{"data":{"name":"geo"},"transform":[{"filter":{"field":"g","oneOf":["rect","coast","close"]}}],"mark":{"type":"line","fill":"white","stroke":null},"encoding":{"order":{"field":"i","type":"quantitative"}}},
{"data":{"name":"geo"},"transform":[{"filter":{"field":"g","oneOf":["coast","b1","b2","b3","b4"]}}],"mark":{"type":"line","color":"#111","strokeWidth":1.8},"encoding":{"detail":{"field":"g"},"order":{"field":"i","type":"quantitative"}}},
{"data":{"name":"geo"},"transform":[{"filter":{"field":"g","equal":"rect"}}],"mark":{"type":"line","color":"#111","strokeWidth":2.2},"encoding":{"order":{"field":"i","type":"quantitative"}}},
{"data":{"values":[{"x":43.62,"y":34.79,"t":"UTCI"}]},"mark":{"type":"text","align":"left","baseline":"middle","fontSize":21},"encoding":{"text":{"field":"t"}}},
{"data":{"values":[{"x":48.3,"y":34.04,"t":"min"}]},"mark":{"type":"text","align":"left","baseline":"middle","fontSize":12.5},"encoding":{"text":{"field":"t"}}},
{"data":{"values":[{"x":58.27,"y":31.73,"t":"( a )"}]},"mark":{"type":"text","align":"center","baseline":"middle","fontSize":22},"encoding":{"text":{"field":"t"}}}
]},
{"width":309,"height":281,"data":{"name":"cells"},
"encoding":{"x":{"field":"x","type":"quantitative","scale":{"domain":[33,61],"nice":false,"zero":false},"axis":{"values":[33,40,47,54,61],"title":null,"domain":false,"tickSize":7,"tickWidth":2,"labelFontSize":21.5,"labelPadding":5,"labelFlush":false,"labelOverlap":false,"labelExpr":"datum.value+'ᵒE'"}},"y":{"field":"y","type":"quantitative","scale":{"domain":[12,33],"nice":false,"zero":false},"axis":{"values":[12,19,26,33],"title":null,"domain":false,"tickSize":7,"tickWidth":2,"labels":false}}},
"layer":[
{"mark":{"type":"rect","width":11.6,"height":13.8},"encoding":{"color":{"field":"b","type":"quantitative","legend":null,"scale":{"type":"quantize","domain":[-0.845,0.847],"range":["#0000cd","#0000eb","#0000f0","#0000ff","#000aff","#001eff","#002dff","#003cff","#005aff","#0073ff","#008cff","#32a5ff","#55b9ff","#6ecdff","#91e6ff","#affaff","#fffdfa","#ffff73","#ffff73","#ffbe64","#ffa550","#ff8737","#ff6e2d","#ff5523","#ff3c19","#ff230a","#ff0000","#ff0000","#eb0000","#d20000","#cd0000","#b90000","#8c0000"]}}}},
{"mark":{"type":"point","filled":true,"size":5,"color":"#111","opacity":1,"xOffset":-2.76,"yOffset":-3.35}},
{"mark":{"type":"point","filled":true,"size":5,"color":"#111","opacity":1,"xOffset":2.76,"yOffset":-3.35}},
{"mark":{"type":"point","filled":true,"size":5,"color":"#111","opacity":1,"xOffset":-2.76,"yOffset":3.35}},
{"mark":{"type":"point","filled":true,"size":5,"color":"#111","opacity":1,"xOffset":2.76,"yOffset":3.35}},
{"data":{"name":"geo"},"transform":[{"filter":{"field":"g","oneOf":["rect","coast","close"]}}],"mark":{"type":"line","fill":"white","stroke":null},"encoding":{"order":{"field":"i","type":"quantitative"}}},
{"data":{"name":"geo"},"transform":[{"filter":{"field":"g","oneOf":["coast","b1","b2","b3","b4"]}}],"mark":{"type":"line","color":"#111","strokeWidth":1.8},"encoding":{"detail":{"field":"g"},"order":{"field":"i","type":"quantitative"}}},
{"data":{"name":"geo"},"transform":[{"filter":{"field":"g","equal":"rect"}}],"mark":{"type":"line","color":"#111","strokeWidth":2.2},"encoding":{"order":{"field":"i","type":"quantitative"}}},
{"data":{"values":[{"x":44.05,"y":34.79,"t":"UTCI"}]},"mark":{"type":"text","align":"left","baseline":"middle","fontSize":21},"encoding":{"text":{"field":"t"}}},
{"data":{"values":[{"x":48.7,"y":34.04,"t":"max"}]},"mark":{"type":"text","align":"left","baseline":"middle","fontSize":12.5},"encoding":{"text":{"field":"t"}}},
{"data":{"values":[{"x":58.37,"y":31.73,"t":"( b )"}]},"mark":{"type":"text","align":"center","baseline":"middle","fontSize":22},"encoding":{"text":{"field":"t"}}}
]},
{"width":310,"height":281,"data":{"name":"cells"},
"encoding":{"x":{"field":"x","type":"quantitative","scale":{"domain":[33,61],"nice":false,"zero":false},"axis":{"values":[33,40,47,54,61],"title":null,"domain":false,"tickSize":7,"tickWidth":2,"labelFontSize":21.5,"labelPadding":5,"labelFlush":false,"labelOverlap":false,"labelExpr":"datum.value+'ᵒE'"}},"y":{"field":"y","type":"quantitative","scale":{"domain":[12,33],"nice":false,"zero":false},"axis":{"values":[12,19,26,33],"title":null,"domain":false,"tickSize":7,"tickWidth":2,"labels":false}}},
"layer":[
{"mark":{"type":"rect","width":11.6,"height":13.8},"encoding":{"color":{"field":"c","type":"quantitative","legend":null,"scale":{"type":"quantize","domain":[-0.845,0.847],"range":["#0000cd","#0000eb","#0000f0","#0000ff","#000aff","#001eff","#002dff","#003cff","#005aff","#0073ff","#008cff","#32a5ff","#55b9ff","#6ecdff","#91e6ff","#affaff","#fffdfa","#ffff73","#ffff73","#ffbe64","#ffa550","#ff8737","#ff6e2d","#ff5523","#ff3c19","#ff230a","#ff0000","#ff0000","#eb0000","#d20000","#cd0000","#b90000","#8c0000"]}}}},
{"mark":{"type":"point","filled":true,"size":5,"color":"#111","opacity":1,"xOffset":-2.77,"yOffset":-3.35}},
{"mark":{"type":"point","filled":true,"size":5,"color":"#111","opacity":1,"xOffset":2.77,"yOffset":-3.35}},
{"mark":{"type":"point","filled":true,"size":5,"color":"#111","opacity":1,"xOffset":-2.77,"yOffset":3.35}},
{"mark":{"type":"point","filled":true,"size":5,"color":"#111","opacity":1,"xOffset":2.77,"yOffset":3.35}},
{"data":{"name":"geo"},"transform":[{"filter":{"field":"g","oneOf":["rect","coast","close"]}}],"mark":{"type":"line","fill":"white","stroke":null},"encoding":{"order":{"field":"i","type":"quantitative"}}},
{"data":{"name":"geo"},"transform":[{"filter":{"field":"g","oneOf":["coast","b1","b2","b3","b4"]}}],"mark":{"type":"line","color":"#111","strokeWidth":1.8},"encoding":{"detail":{"field":"g"},"order":{"field":"i","type":"quantitative"}}},
{"data":{"name":"geo"},"transform":[{"filter":{"field":"g","equal":"rect"}}],"mark":{"type":"line","color":"#111","strokeWidth":2.2},"encoding":{"order":{"field":"i","type":"quantitative"}}},
{"data":{"values":[{"x":44.38,"y":34.79,"t":"UTCI"}]},"mark":{"type":"text","align":"left","baseline":"middle","fontSize":21},"encoding":{"text":{"field":"t"}}},
{"data":{"values":[{"x":49.08,"y":34.04,"t":"mean"}]},"mark":{"type":"text","align":"left","baseline":"middle","fontSize":12.5},"encoding":{"text":{"field":"t"}}},
{"data":{"values":[{"x":58.3,"y":31.73,"t":"( c )"}]},"mark":{"type":"text","align":"center","baseline":"middle","fontSize":22},"encoding":{"text":{"field":"t"}}}
]}
]},
{"bounds":"flush","align":"none","spacing":0,"hconcat":[
{"width":54,"height":33,"data":{"values":[{"k":1}]},"mark":{"type":"point","opacity":0},"encoding":{}},
{"width":930,"height":33,"data":{"name":"bar"},"mark":{"type":"rect","stroke":"white","strokeWidth":1},
"encoding":{"x":{"field":"lo","type":"quantitative","scale":{"domain":[-0.845,0.847],"nice":false,"zero":false},"axis":{"values":[-0.8,-0.7,-0.6,-0.5,-0.4,-0.3,-0.2,-0.1,0,0.1,0.2,0.3,0.4,0.5,0.6,0.7,0.8],"domain":false,"ticks":false,"labelFontSize":22,"labelPadding":7,"labelOverlap":false,"labelFlush":false,"labelExpr":"datum.value<0?'-'+format(-datum.value,'.1f'):(datum.value==0?'0':format(datum.value,'.1f'))","title":"UTCI Trend (ᵒC/Decade)","titleFontSize":22,"titleFontWeight":"normal","titlePadding":13}},"x2":{"field":"hi"},
"color":{"field":"v","type":"quantitative","legend":null,"scale":{"type":"quantize","domain":[-0.845,0.847],"range":["#0000cd","#0000eb","#0000f0","#0000ff","#000aff","#001eff","#002dff","#003cff","#005aff","#0073ff","#008cff","#32a5ff","#55b9ff","#6ecdff","#91e6ff","#affaff","#fffdfa","#ffff73","#ffff73","#ffbe64","#ffa550","#ff8737","#ff6e2d","#ff5523","#ff3c19","#ff230a","#ff0000","#ff0000","#eb0000","#d20000","#cd0000","#b90000","#8c0000"]}}}}
]}
]},
{"bounds":"flush","align":"none","spacing":0,"hconcat":[
{"width":86,"height":336,"data":{"values":[{"k":1}]},"mark":{"type":"point","opacity":0},"encoding":{}},
{"width":839,"height":336,
"encoding":{"x":{"field":"x","type":"quantitative","scale":{"domain":[1978,2023],"nice":false,"zero":false},"axis":null},"y":{"field":"y","type":"quantitative","scale":{"domain":[-2,2],"nice":false,"zero":false},"axis":null}},
"resolve":{"axis":{"x":"independent","y":"independent"},"scale":{"color":"independent"}},
"layer":[
{"data":{"name":"series"},"mark":{"type":"line","strokeWidth":2},
"encoding":{"x":{"field":"x","type":"quantitative","scale":{"domain":[1978,2023],"nice":false,"zero":false},"axis":{"orient":"bottom","values":[1979,1980,1981,1982,1983,1984,1985,1986,1987,1988,1989,1990,1991,1992,1993,1994,1995,1996,1997,1998,1999,2000,2001,2002,2003,2004,2005,2006,2007,2008,2009,2010,2011,2012,2013,2014,2015,2016,2017,2018,2019,2020,2021,2022],"domainWidth":2,"tickWidth":1.5,"tickSize":{"condition":{"test":"(datum.value-1979)%10==0","value":-14},"value":-7},"labelFontSize":22,"labelPadding":23,"labelOverlap":false,"labelFlush":false,"labelExpr":"(datum.value-1979)%10==0?''+datum.value:''","title":"Time (Years)","titleFontSize":22,"titleFontWeight":"normal","titlePadding":2}},
"y":{"field":"y","type":"quantitative","scale":{"domain":[-2,2],"nice":false,"zero":false},"axis":{"orient":"left","values":[-2,-1.8,-1.6,-1.4,-1.2,-1,-0.8,-0.6,-0.4,-0.2,0,0.2,0.4,0.6,0.8,1,1.2,1.4,1.6,1.8,2],"domainWidth":2,"tickWidth":1.5,"tickSize":{"condition":{"test":"abs(datum.value-round(datum.value))<0.01","value":-14},"value":-7},"labelFontSize":22,"labelPadding":24,"labelOverlap":false,"labelFlush":false,"labelExpr":"abs(datum.value-round(datum.value))<0.01?(datum.value<0?'-'+round(-datum.value):''+round(datum.value)):''","title":"UTCI Trend (ᵒC/Decade)","titleFontSize":22,"titleFontWeight":"normal","titlePadding":14}},
"color":{"field":"s","type":"nominal","legend":null,"scale":{"domain":["min","max","mean"],"range":["#c7d21e","#ec1b5a","#f5973b"]}},"order":{"field":"x","type":"quantitative"}}},
{"data":{"values":[{"s":"min","x":1979,"y":-1.03},{"s":"min","x":2022,"y":1.03},{"s":"mean","x":1979,"y":-0.89},{"s":"mean","x":2022,"y":0.89},{"s":"max","x":1979,"y":-0.72},{"s":"max","x":2022,"y":0.72}]},"mark":{"type":"line","strokeWidth":2.6,"strokeDash":[9,4]},
"encoding":{"x":{"field":"x","type":"quantitative","scale":{"domain":[1978,2023],"nice":false,"zero":false},"axis":{"orient":"top","values":[1979,1980,1981,1982,1983,1984,1985,1986,1987,1988,1989,1990,1991,1992,1993,1994,1995,1996,1997,1998,1999,2000,2001,2002,2003,2004,2005,2006,2007,2008,2009,2010,2011,2012,2013,2014,2015,2016,2017,2018,2019,2020,2021,2022],"domainWidth":2,"tickWidth":1.5,"tickSize":{"condition":{"test":"(datum.value-1979)%10==0","value":-14},"value":-7},"labels":false,"title":null}},
"y":{"field":"y","type":"quantitative","scale":{"domain":[-2,2],"nice":false,"zero":false},"axis":{"orient":"right","values":[-2,-1.8,-1.6,-1.4,-1.2,-1,-0.8,-0.6,-0.4,-0.2,0,0.2,0.4,0.6,0.8,1,1.2,1.4,1.6,1.8,2],"domainWidth":2,"tickWidth":1.5,"tickSize":{"condition":{"test":"abs(datum.value-round(datum.value))<0.01","value":-14},"value":-7},"labels":false,"title":null}},
"color":{"field":"s","type":"nominal","legend":null,"scale":{"domain":["min","max","mean"],"range":["#a9b81c","#c8143c","#e8741e"]}},"detail":{"field":"s"},"order":{"field":"x","type":"quantitative"}}},
{"data":{"values":[{"s":"min","x":1978.73,"x2":1981.85,"y":1.567},{"s":"max","x":1978.73,"x2":1981.85,"y":1.14},{"s":"mean","x":1978.73,"x2":1981.85,"y":0.714}]},"mark":{"type":"rule","strokeWidth":3.5},
"encoding":{"x2":{"field":"x2"},"color":{"field":"s","type":"nominal","legend":null,"scale":{"domain":["min","max","mean"],"range":["#c7d21e","#ec1b5a","#f5973b"]}}}},
{"data":{"values":[{"x":1982.63,"y":1.6,"t":"UTCI"},{"x":1982.63,"y":1.17,"t":"UTCI"},{"x":1982.63,"y":0.745,"t":"UTCI"}]},"mark":{"type":"text","align":"left","baseline":"middle","fontSize":20.5},"encoding":{"text":{"field":"t"}}},
{"data":{"values":[{"x":1985.17,"y":1.49,"t":"min"},{"x":1985.17,"y":1.06,"t":"max"},{"x":1985.17,"y":0.635,"t":"mean"}]},"mark":{"type":"text","align":"left","baseline":"middle","fontSize":12},"encoding":{"text":{"field":"t"}}},
{"data":{"values":[{"x":2021.17,"y":1.706,"t":"( d )"}]},"mark":{"type":"text","align":"center","baseline":"middle","fontSize":22},"encoding":{"text":{"field":"t"}}},
{"data":{"values":[{"s":"min","x":1987.59,"y":1.58,"t":"(0.46 ᵒC/Decade*)"},{"s":"max","x":1987.59,"y":1.15,"t":"(0.33 ᵒC/Decade*)"},{"s":"mean","x":1987.59,"y":0.725,"t":"(0.42 ᵒC/Decade*)"}]},"mark":{"type":"text","align":"left","baseline":"middle","fontSize":21},"encoding":{"text":{"field":"t"},"color":{"field":"s","type":"nominal","legend":null,"scale":{"domain":["min","max","mean"],"range":["#b8c22a","#d0245a","#e8822e"]}}}}
]}
]}
]}
